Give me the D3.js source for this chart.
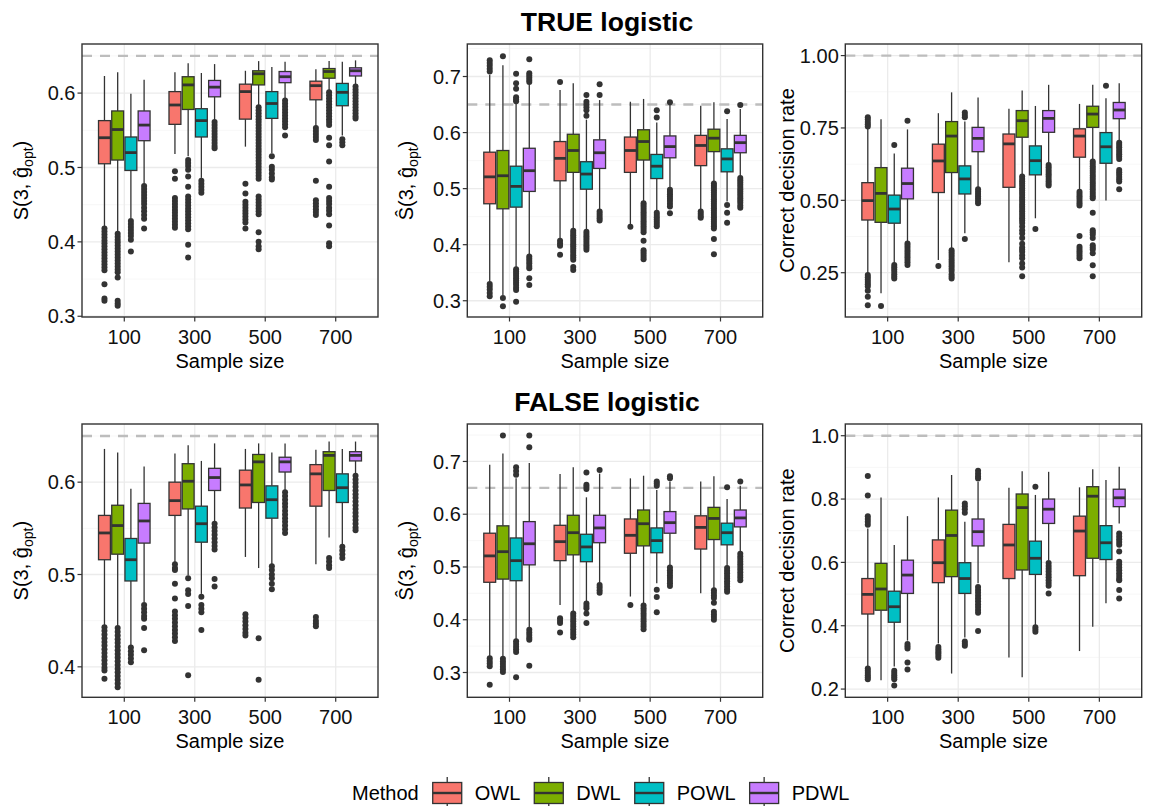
<!DOCTYPE html>
<html><head><meta charset="utf-8">
<script src="https://cdn.jsdelivr.net/npm/d3@7"></script>
<style>body{margin:0;background:#fff} text{font-family:"Liberation Sans",Arial,Helvetica,sans-serif}</style>
</head><body><svg id="c" width="1149" height="806"></svg>
<script>
// ---------- data ----------
const sampleSizes = ["100","300","500","700"];
const methods = ["OWL","DWL","POWL","PDWL"];
const methodColors = ["#F8766D","#7CAE00","#00BFC4","#C77CFF"];

// box stats per sample size: [lower whisker, Q1, median, Q3, upper whisker]
// Panel: TRUE logistic, S(3, g_opt)
const tS_OWL  = [[0.421,0.505,0.540,0.563,0.623],[0.518,0.558,0.584,0.602,0.628],[0.528,0.565,0.602,0.612,0.630],[0.555,0.591,0.610,0.616,0.632]];
const tS_DWL  = [[0.414,0.510,0.551,0.576,0.628],[0.515,0.578,0.611,0.622,0.640],[0.583,0.611,0.626,0.630,0.643],[0.603,0.620,0.629,0.633,0.643]];
const tS_POWL = [[0.432,0.496,0.520,0.541,0.599],[0.486,0.541,0.563,0.579,0.627],[0.519,0.566,0.586,0.602,0.635],[0.543,0.583,0.601,0.613,0.642]];
const tS_PDWL = [[0.478,0.536,0.557,0.576,0.618],[0.564,0.595,0.608,0.617,0.639],[0.593,0.614,0.622,0.629,0.642],[0.611,0.623,0.630,0.634,0.644]];
const tS_OWL_out  = [[0.418,0.414,0.41,0.406,0.402,0.398,0.394,0.39,0.386,0.382,0.378,0.374,0.37,0.366,0.362,0.343,0.324,0.321],[0.495,0.485,0.459,0.455,0.451,0.447,0.443,0.439,0.435,0.431,0.427,0.423,0.419],[0.478,0.465,0.454,0.45,0.446,0.442,0.438,0.434,0.43,0.426,0.418],[0.553,0.549,0.545,0.541,0.537,0.482,0.456,0.452,0.448,0.444,0.44,0.436]];
const tS_DWL_out  = [[0.411,0.407,0.403,0.399,0.395,0.391,0.387,0.383,0.379,0.375,0.371,0.367,0.363,0.359,0.352,0.321,0.317,0.314],[0.510,0.506,0.502,0.497,0.488,0.474,0.461,0.457,0.453,0.449,0.445,0.441,0.437,0.433,0.429,0.425,0.421,0.417,0.396,0.379],[0.581,0.577,0.573,0.569,0.565,0.561,0.557,0.553,0.549,0.545,0.541,0.537,0.533,0.529,0.525,0.521,0.517,0.513,0.509,0.505,0.501,0.497,0.493,0.489,0.485,0.461,0.457,0.453,0.449,0.445,0.441,0.437,0.413,0.4,0.394,0.39],[0.601,0.597,0.593,0.589,0.585,0.581,0.577,0.573,0.569,0.565,0.561,0.557,0.540,0.530,0.508,0.474,0.459,0.455,0.451,0.446,0.442,0.437,0.422,0.398,0.394]];
const tS_POWL_out = [[0.428,0.424,0.42,0.416,0.412,0.408,0.403,0.387],[0.482,0.478,0.474,0.47,0.466],[0.515,0.501,0.497,0.492,0.487,0.484],[0.538,0.534,0.530]];
const tS_PDWL_out = [[0.475,0.471,0.467,0.463,0.459,0.455,0.451,0.446,0.441,0.436,0.431,0.418],[0.561,0.557,0.553,0.549,0.545,0.541,0.537,0.533,0.529,0.526],[0.590,0.586,0.582,0.578,0.574,0.570,0.566,0.562,0.558,0.554,0.543],[0.609,0.605,0.601,0.597,0.593,0.589,0.585,0.581,0.577,0.573,0.569,0.566]];

// Panel: TRUE logistic, S-hat(3, g_opt)
const tSh_OWL  = [[0.334,0.473,0.521,0.565,0.703],[0.410,0.514,0.554,0.584,0.676],[0.435,0.529,0.568,0.592,0.655],[0.462,0.541,0.577,0.595,0.648]];
const tSh_DWL  = [[0.310,0.464,0.523,0.568,0.720],[0.427,0.529,0.568,0.597,0.688],[0.477,0.551,0.584,0.605,0.660],[0.512,0.566,0.590,0.606,0.654]];
const tSh_POWL = [[0.359,0.467,0.504,0.540,0.654],[0.426,0.499,0.526,0.548,0.623],[0.459,0.518,0.540,0.561,0.618],[0.477,0.530,0.553,0.571,0.624]];
const tSh_PDWL = [[0.382,0.495,0.532,0.572,0.686],[0.462,0.536,0.564,0.587,0.658],[0.501,0.555,0.575,0.594,0.652],[0.521,0.564,0.582,0.595,0.642]];
const tSh_OWL_out  = [[0.729,0.724,0.719,0.714,0.709,0.330,0.325,0.32,0.314,0.308],[0.690,0.407,0.402,0.398,0.382],[0.432],[0.459,0.455,0.451,0.448]];
const tSh_DWL_out  = [[0.736,0.305,0.290],[0.425,0.421,0.417,0.413,0.409,0.405,0.401,0.397,0.393,0.389,0.385,0.381,0.377,0.373,0.36,0.355],[0.474,0.47,0.466,0.462,0.458,0.454,0.45,0.446,0.442,0.438,0.434,0.43,0.426,0.422,0.407,0.39,0.386,0.382,0.378,0.374],[0.509,0.505,0.501,0.497,0.493,0.489,0.485,0.481,0.477,0.473,0.469,0.465,0.461,0.457,0.453,0.449,0.445,0.441,0.437,0.433,0.429,0.41,0.383]];
const tSh_POWL_out = [[0.705,0.688,0.678,0.663,0.659,0.656,0.356,0.352,0.348,0.344,0.34,0.336,0.332,0.328,0.323,0.319,0.298],[0.667,0.655,0.65,0.645,0.640,0.630,0.423,0.419,0.415,0.411,0.407,0.403,0.399,0.395,0.391],[0.640,0.627,0.457,0.453,0.449,0.445,0.441,0.437,0.433],[0.638,0.471,0.457,0.439]];
const tSh_PDWL_out = [[0.731,0.706,0.702,0.698,0.694,0.690,0.379,0.375,0.371,0.367,0.362,0.358,0.340,0.328],[0.686,0.667,0.459,0.455,0.451,0.447,0.443],[0.654,0.498,0.494,0.49,0.486,0.482,0.478,0.473,0.468,0.456],[0.649,0.519,0.515,0.511,0.507,0.503,0.499,0.495,0.491,0.487,0.483,0.479,0.475,0.47,0.466]];

// Panel: TRUE logistic, correct decision rate
const tC_OWL  = [[0.248,0.432,0.499,0.561,0.749],[0.294,0.527,0.636,0.694,0.801],[0.286,0.545,0.695,0.729,0.816],[0.536,0.649,0.722,0.747,0.833]];
const tC_DWL  = [[0.179,0.424,0.524,0.613,0.780],[0.334,0.596,0.722,0.772,0.873],[0.588,0.718,0.775,0.810,0.879],[0.639,0.752,0.798,0.825,0.899]];
const tC_POWL = [[0.282,0.421,0.470,0.518,0.662],[0.386,0.522,0.574,0.619,0.772],[0.438,0.588,0.637,0.688,0.826],[0.499,0.628,0.685,0.734,0.853]];
const tC_PDWL = [[0.357,0.505,0.558,0.611,0.745],[0.541,0.668,0.714,0.752,0.855],[0.628,0.735,0.783,0.810,0.899],[0.703,0.782,0.812,0.838,0.904]];
const tC_OWL_out  = [[0.787,0.779,0.771,0.763,0.755,0.242,0.234,0.226,0.218,0.21,0.202,0.188,0.167,0.138],[0.273],[],[0.530,0.522,0.514,0.506,0.498,0.49,0.482,0.377,0.34,0.332,0.324,0.316,0.308,0.3]];
const tC_DWL_out  = [[0.135],[0.328,0.320,0.312,0.304,0.296,0.288,0.280,0.272,0.264,0.256,0.245,0.237,0.23],[0.582,0.574,0.566,0.558,0.55,0.542,0.534,0.526,0.518,0.51,0.502,0.494,0.486,0.478,0.47,0.462,0.454,0.446,0.438,0.43,0.422,0.41,0.397,0.385,0.37,0.35,0.337,0.33,0.322,0.31,0.3,0.282,0.268,0.238],[0.634,0.626,0.618,0.61,0.602,0.594,0.586,0.578,0.57,0.562,0.554,0.546,0.538,0.53,0.522,0.514,0.507,0.457,0.397,0.39,0.382,0.37,0.345,0.337,0.33,0.317,0.276,0.238]];
const tC_POWL_out = [[0.691,0.277,0.269,0.261,0.253,0.245,0.237,0.23],[0.803,0.795,0.787,0.366],[0.401],[0.896]];
const tC_PDWL_out = [[0.775,0.351,0.343,0.335,0.327,0.319,0.311,0.303,0.295,0.286,0.277],[0.538,0.53,0.522,0.514,0.506,0.498,0.49],[0.622,0.614,0.606,0.598,0.59,0.582,0.574,0.566,0.558,0.551],[0.699,0.691,0.683,0.675,0.667,0.659,0.651,0.643,0.605,0.597,0.589,0.581,0.573,0.565,0.538]];

// Panel: FALSE logistic, S(3, g_opt)
const fS_OWL  = [[0.445,0.516,0.545,0.564,0.636],[0.513,0.564,0.580,0.600,0.631],[0.519,0.572,0.597,0.613,0.636],[0.511,0.574,0.609,0.619,0.635]];
const fS_DWL  = [[0.443,0.522,0.553,0.575,0.632],[0.499,0.571,0.601,0.620,0.640],[0.507,0.578,0.622,0.630,0.642],[0.540,0.591,0.629,0.633,0.644]];
const fS_POWL = [[0.423,0.493,0.516,0.539,0.593],[0.479,0.535,0.555,0.574,0.623],[0.511,0.561,0.581,0.596,0.632],[0.532,0.578,0.594,0.609,0.636]];
const fS_PDWL = [[0.470,0.534,0.558,0.577,0.617],[0.556,0.591,0.605,0.615,0.642],[0.591,0.611,0.622,0.627,0.642],[0.609,0.623,0.629,0.633,0.644]];
const fS_OWL_out  = [[0.443,0.439,0.435,0.431,0.427,0.423,0.419,0.415,0.411,0.407,0.403,0.399,0.396,0.387],[0.511,0.507,0.505,0.490,0.474,0.46,0.456,0.452,0.448,0.444,0.44,0.436,0.432,0.428],[0.457,0.453,0.449,0.445,0.441,0.437,0.434],[0.454,0.45,0.447,0.444]];
const fS_DWL_out  = [[0.442,0.438,0.434,0.43,0.426,0.422,0.418,0.414,0.41,0.406,0.402,0.398,0.394,0.39,0.386,0.382,0.378],[0.496,0.483,0.479,0.466,0.391],[0.431,0.386],[0.518,0.514,0.51,0.507]];
const fS_POWL_out = [[0.421,0.417,0.413,0.409,0.405],[0.476,0.467,0.463,0.459,0.440],[0.509,0.505,0.5,0.496,0.49,0.484],[0.530,0.526,0.522,0.518]];
const fS_PDWL_out = [[0.467,0.463,0.459,0.455,0.452,0.442,0.418],[0.555,0.551,0.547,0.543,0.539,0.535,0.531,0.527,0.495,0.487],[0.589,0.585,0.581,0.577,0.573,0.569,0.565,0.561,0.557,0.553,0.549,0.545],[0.607,0.603,0.599,0.595,0.591,0.587,0.583,0.579,0.575,0.571,0.567,0.563,0.559,0.555,0.551,0.548]];

// Panel: FALSE logistic, S-hat(3, g_opt)
const fSh_OWL  = [[0.329,0.471,0.521,0.564,0.694],[0.428,0.512,0.548,0.579,0.676],[0.444,0.526,0.560,0.591,0.668],[0.450,0.534,0.575,0.597,0.662]];
const fSh_DWL  = [[0.330,0.477,0.529,0.578,0.715],[0.416,0.523,0.565,0.598,0.689],[0.431,0.540,0.582,0.608,0.673],[0.460,0.552,0.592,0.613,0.672]];
const fSh_POWL = [[0.362,0.474,0.512,0.555,0.668],[0.435,0.510,0.538,0.562,0.632],[0.469,0.527,0.550,0.574,0.646],[0.501,0.542,0.565,0.583,0.629]];
const fSh_PDWL = [[0.384,0.504,0.544,0.586,0.697],[0.469,0.546,0.574,0.598,0.677],[0.501,0.564,0.584,0.605,0.662],[0.527,0.576,0.593,0.608,0.654]];
const fSh_OWL_out  = [[0.327,0.322,0.317,0.312,0.277],[0.403,0.398,0.394,0.376],[0.428],[]];
const fSh_DWL_out  = [[0.749,0.326,0.321,0.316,0.311,0.306,0.301],[0.412,0.407,0.402,0.397,0.392,0.387,0.382,0.377,0.372,0.367],[0.427,0.422,0.417,0.412,0.407,0.402,0.397,0.392,0.387,0.382],[0.456,0.451,0.446,0.441,0.432,0.415,0.41,0.405,0.4]];
const fSh_POWL_out = [[0.689,0.682,0.675,0.359,0.354,0.349,0.344,0.339,0.291],[0.679,0.656,0.652,0.648,0.431,0.426,0.422,0.412,0.394],[0.662,0.658,0.654,0.457,0.443,0.414],[0.651,0.498,0.493,0.488,0.483,0.478,0.473,0.468,0.463,0.458,0.453]];
const fSh_PDWL_out = [[0.749,0.727,0.381,0.376,0.371,0.366,0.362,0.313],[0.684,0.466,0.461,0.456,0.451],[0.672,0.668,0.499,0.494,0.489,0.484,0.479,0.474,0.469,0.464],[0.662,0.525,0.52,0.515,0.51,0.505,0.5,0.495,0.49,0.485,0.48,0.475]];

// Panel: FALSE logistic, correct decision rate
const fC_OWL  = [[0.273,0.437,0.499,0.549,0.707],[0.344,0.536,0.599,0.671,0.805],[0.300,0.549,0.655,0.720,0.836],[0.320,0.558,0.699,0.746,0.837]];
const fC_DWL  = [[0.228,0.449,0.516,0.597,0.805],[0.249,0.555,0.685,0.765,0.876],[0.237,0.576,0.773,0.816,0.888],[0.397,0.613,0.809,0.839,0.894]];
const fC_POWL = [[0.271,0.411,0.460,0.509,0.655],[0.363,0.502,0.549,0.599,0.728],[0.399,0.562,0.613,0.667,0.813],[0.471,0.609,0.662,0.716,0.860]];
const fC_PDWL = [[0.353,0.502,0.560,0.607,0.746],[0.534,0.652,0.697,0.737,0.855],[0.607,0.723,0.768,0.800,0.886],[0.723,0.776,0.804,0.831,0.902]];
const fC_OWL_out  = [[0.873,0.811,0.746,0.737,0.728,0.719,0.265,0.258,0.251,0.244,0.237,0.231],[0.333,0.326,0.319,0.313,0.306,0.299],[],[]];
const fC_DWL_out  = [[],[],[],[]];
const fC_POWL_out = [[0.258,0.251,0.244,0.237,0.231,0.211],[0.786,0.777,0.768,0.757,0.350,0.343,0.337],[0.839,0.395,0.388,0.381],[]];
const fC_PDWL_out = [[0.342,0.335,0.328,0.284,0.262],[0.889,0.88,0.871,0.865,0.522,0.513,0.504,0.495,0.486,0.477,0.468,0.459,0.45,0.441,0.383],[0.598,0.589,0.58,0.571,0.562,0.553,0.544,0.535,0.526,0.502],[0.691,0.682,0.673,0.664,0.656,0.634,0.602,0.593,0.584,0.575,0.566,0.557,0.548,0.544,0.513,0.486]];

const tickS  = [0.3,0.4,0.5,0.6];
const tickSh = [0.3,0.4,0.5,0.6,0.7];
const tickC1 = [0.25,0.50,0.75,1.00];
const tickS2 = [0.4,0.5,0.6];
const tickC2 = [0.2,0.4,0.6,0.8,1.0];
const rowTitles = ["TRUE logistic","FALSE logistic"];
const xTitle = "Sample size";
const legendTitle = "Method";

// ---------- layout ----------
const colX = [[82,378],[467.3,762.7],[845.3,1141.7]];
const rowY = [[44,317],[424,697.3]];
const labelX = [21,406,786.5];

const panels = [
 {row:0,col:0,stats:[tS_OWL,tS_DWL,tS_POWL,tS_PDWL],out:[tS_OWL_out,tS_DWL_out,tS_POWL_out,tS_PDWL_out],domain:[0.299,0.666],ticks:tickS,fmt:d3.format(".1f"),minor:[0.35,0.45,0.55,0.65],ref:0.65,lab:"S"},
 {row:0,col:1,stats:[tSh_OWL,tSh_DWL,tSh_POWL,tSh_PDWL],out:[tSh_OWL_out,tSh_DWL_out,tSh_POWL_out,tSh_PDWL_out],domain:[0.271,0.758],ticks:tickSh,fmt:d3.format(".1f"),minor:[0.35,0.45,0.55,0.65,0.75],ref:0.65,lab:"Sh"},
 {row:0,col:2,stats:[tC_OWL,tC_DWL,tC_POWL,tC_PDWL],out:[tC_OWL_out,tC_DWL_out,tC_POWL_out,tC_PDWL_out],domain:[0.097,1.040],ticks:tickC1,fmt:d3.format(".2f"),minor:[0.125,0.375,0.625,0.875],ref:1.0,lab:"C"},
 {row:1,col:0,stats:[fS_OWL,fS_DWL,fS_POWL,fS_PDWL],out:[fS_OWL_out,fS_DWL_out,fS_POWL_out,fS_PDWL_out],domain:[0.367,0.663],ticks:tickS2,fmt:d3.format(".1f"),minor:[0.45,0.55,0.65],ref:0.65,lab:"S"},
 {row:1,col:1,stats:[fSh_OWL,fSh_DWL,fSh_POWL,fSh_PDWL],out:[fSh_OWL_out,fSh_DWL_out,fSh_POWL_out,fSh_PDWL_out],domain:[0.253,0.771],ticks:tickSh,fmt:d3.format(".1f"),minor:[0.35,0.45,0.55,0.65,0.75],ref:0.65,lab:"Sh"},
 {row:1,col:2,stats:[fC_OWL,fC_DWL,fC_POWL,fC_PDWL],out:[fC_OWL_out,fC_DWL_out,fC_POWL_out,fC_PDWL_out],domain:[0.174,1.037],ticks:tickC2,fmt:d3.format(".1f"),minor:[0.3,0.5,0.7,0.9],ref:1.0,lab:"C"}
];

const svg = d3.select("#c");
svg.append("rect").attr("width",1149).attr("height",806).attr("fill","#fff");
const DARK = "#333333";
const FS = 20;

panels.forEach(p => {
  const [x0,x1] = colX[p.col], [y0,y1] = rowY[p.row];
  const x = d3.scaleBand().domain(sampleSizes).range([x0,x1]).paddingInner(0).paddingOuter(0.1);
  const bw = x.bandwidth();
  const tot = bw*0.75;
  const xm = d3.scaleBand().domain(methods).range([-tot/2,tot/2]).paddingInner(0.1).paddingOuter(0.05);
  const y = d3.scaleLinear().domain(p.domain).range([y1,y0]);
  const g = svg.append("g");
  g.append("rect").attr("x",x0).attr("y",y0).attr("width",x1-x0).attr("height",y1-y0).attr("fill","#fff");
  g.selectAll(".mn").data(p.minor.filter(v=>v>p.domain[0]&&v<p.domain[1])).enter().append("line")
    .attr("x1",x0).attr("x2",x1).attr("y1",d=>y(d)).attr("y2",d=>y(d)).attr("stroke","#F3F3F3").attr("stroke-width",0.7);
  g.selectAll(".mj").data(p.ticks).enter().append("line")
    .attr("x1",x0).attr("x2",x1).attr("y1",d=>y(d)).attr("y2",d=>y(d)).attr("stroke","#EBEBEB").attr("stroke-width",1.3);
  g.selectAll(".mv").data(sampleSizes).enter().append("line")
    .attr("x1",d=>x(d)+bw/2).attr("x2",d=>x(d)+bw/2).attr("y1",y0).attr("y2",y1).attr("stroke","#EBEBEB").attr("stroke-width",1.3);
  g.append("line").attr("x1",x0).attr("x2",x1).attr("y1",y(p.ref)).attr("y2",y(p.ref))
    .attr("stroke","#BDBDBD").attr("stroke-width",2.4).attr("stroke-dasharray","10,8");
  methods.forEach((m,mi) => {
    p.stats[mi].forEach((s,si) => {
      const cx = x(sampleSizes[si]) + bw/2 + xm(m) + xm.bandwidth()/2;
      const w = xm.bandwidth();
      const [lo,q1,md,q3,hi] = s;
      g.append("line").attr("x1",cx).attr("x2",cx).attr("y1",y(hi)).attr("y2",y(q3)).attr("stroke",DARK).attr("stroke-width",1.3);
      g.append("line").attr("x1",cx).attr("x2",cx).attr("y1",y(q1)).attr("y2",y(lo)).attr("stroke",DARK).attr("stroke-width",1.3);
      g.append("rect").attr("x",cx-w/2).attr("y",y(q3)).attr("width",w).attr("height",y(q1)-y(q3))
        .attr("fill",methodColors[mi]).attr("stroke",DARK).attr("stroke-width",1.3);
      g.append("line").attr("x1",cx-w/2).attr("x2",cx+w/2).attr("y1",y(md)).attr("y2",y(md)).attr("stroke",DARK).attr("stroke-width",2.8);
      g.selectAll(null).data(p.out[mi][si]).enter().append("circle")
        .attr("cx",cx).attr("cy",d=>y(d)).attr("r",3).attr("fill",DARK);
    });
  });
  g.append("rect").attr("x",x0).attr("y",y0).attr("width",x1-x0).attr("height",y1-y0).attr("fill","none").attr("stroke",DARK).attr("stroke-width",1.4);
  g.selectAll(".yt").data(p.ticks).enter().append("line")
    .attr("x1",x0-4.5).attr("x2",x0).attr("y1",d=>y(d)).attr("y2",d=>y(d)).attr("stroke",DARK).attr("stroke-width",1.2);
  g.selectAll(".yl").data(p.ticks).enter().append("text")
    .attr("x",x0-6.5).attr("y",d=>y(d)).attr("dy","0.36em").attr("text-anchor","end")
    .attr("font-size",FS).attr("fill","#111").text(d=>p.fmt(d));
  g.selectAll(".xt").data(sampleSizes).enter().append("line")
    .attr("x1",d=>x(d)+bw/2).attr("x2",d=>x(d)+bw/2).attr("y1",y1).attr("y2",y1+4.5).attr("stroke",DARK).attr("stroke-width",1.2);
  g.selectAll(".xl").data(sampleSizes).enter().append("text")
    .attr("x",d=>x(d)+bw/2).attr("y",y1+27).attr("text-anchor","middle")
    .attr("font-size",FS).attr("fill","#111").text(d=>d);
  g.append("text").attr("x",(x0+x1)/2).attr("y",y1+51).attr("text-anchor","middle").attr("font-size",FS).attr("fill","#000").text(xTitle);
  const lx = labelX[p.col], ly = (y0+y1)/2;
  const t = g.append("text").attr("transform",`translate(${lx},${ly}) rotate(-90)`)
    .attr("text-anchor","middle").attr("dy","0.35em").attr("font-size",FS).attr("fill","#000");
  if (p.lab === "C") {
    t.text("Correct decision rate");
  } else {
    t.append("tspan").text(p.lab === "S" ? "S(3, ĝ" : "Ŝ(3, ĝ");
    t.append("tspan").attr("font-size",14).attr("dy",5).text("opt");
    t.append("tspan").attr("dy",-5).text(")");
  }
});

rowTitles.forEach((tt,i) => {
  svg.append("text").attr("x",607).attr("y",31+380*i).attr("text-anchor","middle")
    .attr("font-size",26.5).attr("font-weight","bold").attr("fill","#000").text(tt);
});

// legend: keys positioned after each measured label
const lg = svg.append("g");
const lt = lg.append("text").attr("x",352).attr("y",800).attr("font-size",FS).attr("fill","#000").text(legendTitle);
let kx = 352 + lt.node().getComputedTextLength() + 14;
methods.forEach((m,i) => {
  const cx = kx+14.5;
  lg.append("line").attr("x1",cx).attr("x2",cx).attr("y1",777).attr("y2",810).attr("stroke",DARK).attr("stroke-width",1.3);
  lg.append("rect").attr("x",kx).attr("y",782.5).attr("width",29).attr("height",21).attr("fill",methodColors[i]).attr("stroke",DARK).attr("stroke-width",1.3);
  lg.append("line").attr("x1",kx).attr("x2",kx+29).attr("y1",793).attr("y2",793).attr("stroke",DARK).attr("stroke-width",2.4);
  const tx = lg.append("text").attr("x",kx+42).attr("y",800).attr("font-size",FS).attr("fill","#000").text(m);
  kx = kx + 42 + tx.node().getComputedTextLength() + 14;
});
</script></body></html>
